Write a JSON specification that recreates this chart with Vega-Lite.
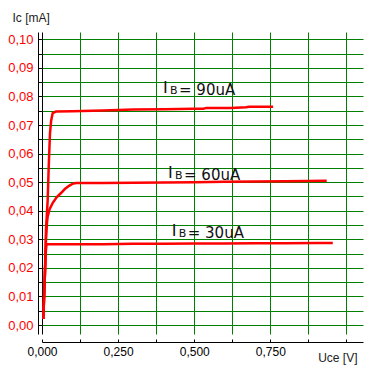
{
  "$schema": "https://vega.github.io/schema/vega-lite/v6.json",
  "width": 321,
  "height": 302,
  "autosize": {"type": "none"},
  "padding": {"left": 42, "top": 32, "right": 8, "bottom": 58},
  "background": "white",
  "config": {"view": {"stroke": null}},
  "datasets": {
    "curves": [
      {"curve": "30uA", "u": 0.0043, "i": 0.0021},
      {"curve": "30uA", "u": 0.0066, "i": 0.0088},
      {"curve": "30uA", "u": 0.0099, "i": 0.019},
      {"curve": "30uA", "u": 0.012, "i": 0.025},
      {"curve": "30uA", "u": 0.0145, "i": 0.028},
      {"curve": "30uA", "u": 0.017, "i": 0.0283},
      {"curve": "30uA", "u": 0.1, "i": 0.0283},
      {"curve": "30uA", "u": 0.2, "i": 0.0283},
      {"curve": "30uA", "u": 0.3, "i": 0.0284},
      {"curve": "30uA", "u": 0.4, "i": 0.0284},
      {"curve": "30uA", "u": 0.5, "i": 0.0285},
      {"curve": "30uA", "u": 0.6, "i": 0.0285},
      {"curve": "30uA", "u": 0.7, "i": 0.0286},
      {"curve": "30uA", "u": 0.8, "i": 0.0286},
      {"curve": "30uA", "u": 0.9, "i": 0.0287},
      {"curve": "30uA", "u": 0.955, "i": 0.0287},
      {"curve": "60uA", "u": 0.0043, "i": 0.0021},
      {"curve": "60uA", "u": 0.0099, "i": 0.019},
      {"curve": "60uA", "u": 0.0131, "i": 0.03},
      {"curve": "60uA", "u": 0.0165, "i": 0.036},
      {"curve": "60uA", "u": 0.0187, "i": 0.038},
      {"curve": "60uA", "u": 0.025, "i": 0.0405},
      {"curve": "60uA", "u": 0.035, "i": 0.0427},
      {"curve": "60uA", "u": 0.048, "i": 0.0447},
      {"curve": "60uA", "u": 0.0624, "i": 0.0462},
      {"curve": "60uA", "u": 0.075, "i": 0.0476},
      {"curve": "60uA", "u": 0.0887, "i": 0.0487},
      {"curve": "60uA", "u": 0.1, "i": 0.0494},
      {"curve": "60uA", "u": 0.1117, "i": 0.0497},
      {"curve": "60uA", "u": 0.2, "i": 0.0497},
      {"curve": "60uA", "u": 0.3, "i": 0.0498},
      {"curve": "60uA", "u": 0.4, "i": 0.0499},
      {"curve": "60uA", "u": 0.5, "i": 0.05},
      {"curve": "60uA", "u": 0.6, "i": 0.0501},
      {"curve": "60uA", "u": 0.7, "i": 0.0502},
      {"curve": "60uA", "u": 0.8, "i": 0.0503},
      {"curve": "60uA", "u": 0.935, "i": 0.0505},
      {"curve": "90uA", "u": 0.0043, "i": 0.0021},
      {"curve": "90uA", "u": 0.0099, "i": 0.019},
      {"curve": "90uA", "u": 0.0131, "i": 0.0333},
      {"curve": "90uA", "u": 0.0187, "i": 0.0438},
      {"curve": "90uA", "u": 0.022, "i": 0.0553},
      {"curve": "90uA", "u": 0.0263, "i": 0.0672},
      {"curve": "90uA", "u": 0.03, "i": 0.0715},
      {"curve": "90uA", "u": 0.0351, "i": 0.0742},
      {"curve": "90uA", "u": 0.046, "i": 0.0747},
      {"curve": "90uA", "u": 0.1, "i": 0.0748},
      {"curve": "90uA", "u": 0.2, "i": 0.0751},
      {"curve": "90uA", "u": 0.3, "i": 0.0754},
      {"curve": "90uA", "u": 0.4, "i": 0.0755},
      {"curve": "90uA", "u": 0.5, "i": 0.0757},
      {"curve": "90uA", "u": 0.53, "i": 0.0757},
      {"curve": "90uA", "u": 0.54, "i": 0.076},
      {"curve": "90uA", "u": 0.62, "i": 0.076},
      {"curve": "90uA", "u": 0.67, "i": 0.0762},
      {"curve": "90uA", "u": 0.68, "i": 0.0764},
      {"curve": "90uA", "u": 0.759, "i": 0.0764}
    ],
    "labels": [
      {"u": 0.3974, "i": 0.0805, "text": "= 90uA"},
      {"u": 0.4138, "i": 0.0508, "text": "= 60uA"},
      {"u": 0.426, "i": 0.0303, "text": "= 30uA"}
    ]
  },
  "layer": [
    {
      "data": {"name": "curves"},
      "mark": {"type": "line", "color": "#ff0000", "strokeWidth": 2.5},
      "encoding": {
        "x": {
          "field": "u", "type": "quantitative",
          "scale": {"domain": [0, 1.0542], "nice": false, "zero": false},
          "axis": {
            "values": [0, 0.125, 0.25, 0.375, 0.5, 0.625, 0.75, 0.875, 1.0],
            "tickCount": 100,
            "labelExpr": "(datum.value <= 0.76 && abs(datum.value*4 - round(datum.value*4)) < 0.01) ? replace(format(datum.value, '.3f'), '.', ',') : ''",
            "offset": 8,
            "tickSize": -3,
            "tickColor": "black",
            "domainColor": "black",
            "grid": true,
            "gridColor": {"condition": {"test": "datum.value === 0", "value": "black"}, "value": "#008000"},
            "gridWidth": 1,
            "labelFlush": false,
            "labelOverlap": false,
            "labelFont": "Liberation Sans",
            "labelFontSize": 12,
            "labelColor": "black",
            "labelPadding": 7,
            "title": "Uce [V]",
            "titleFont": "Liberation Sans",
            "titleFontSize": 12,
            "titleFontWeight": "normal",
            "titleColor": "#222222",
            "titleAlign": "right",
            "titleBaseline": "alphabetic",
            "titleX": 315,
            "titleY": 19
          }
        },
        "y": {
          "field": "i", "type": "quantitative",
          "scale": {"domain": [-0.00315, 0.10256], "nice": false, "zero": false},
          "axis": {
            "values": [0, 0.005, 0.01, 0.015, 0.02, 0.025, 0.03, 0.035, 0.04, 0.045, 0.05, 0.055, 0.06, 0.065, 0.07, 0.075, 0.08, 0.085, 0.09, 0.095, 0.1],
            "tickCount": 100,
            "labelExpr": "abs(datum.value*100 - round(datum.value*100)) < 0.01 ? replace(format(datum.value, '.2f'), '.', ',') : ''",
            "offset": 4,
            "tickSize": -4,
            "tickColor": "black",
            "domainColor": "black",
            "grid": true,
            "gridColor": "#008000",
            "gridWidth": 1,
            "labelFlush": false,
            "labelOverlap": false,
            "labelFont": "Liberation Sans",
            "labelFontSize": 13,
            "labelColor": "#ff0000",
            "labelPadding": 9,
            "title": "Ic [mA]",
            "titleFont": "Liberation Sans",
            "titleFontSize": 12,
            "titleFontWeight": "normal",
            "titleColor": "#222222",
            "titleAngle": 0,
            "titleAlign": "left",
            "titleBaseline": "alphabetic",
            "titleX": -26,
            "titleY": -11
          }
        },
        "detail": {"field": "curve"}
      }
    },
    {
      "data": {"name": "labels"},
      "mark": {"type": "text", "text": "I", "align": "left", "baseline": "alphabetic", "font": "DejaVu Sans", "fontSize": 16, "dy": -2, "color": "#111111"},
      "encoding": {"x": {"field": "u", "type": "quantitative"}, "y": {"field": "i", "type": "quantitative"}}
    },
    {
      "data": {"name": "labels"},
      "mark": {"type": "text", "text": "B", "align": "left", "baseline": "alphabetic", "font": "DejaVu Sans", "fontSize": 11, "dx": 7, "dy": -1, "color": "#111111"},
      "encoding": {"x": {"field": "u", "type": "quantitative"}, "y": {"field": "i", "type": "quantitative"}}
    },
    {
      "data": {"name": "labels"},
      "mark": {"type": "text", "align": "left", "baseline": "alphabetic", "font": "DejaVu Sans", "fontSize": 15, "dx": 16, "color": "#111111"},
      "encoding": {"x": {"field": "u", "type": "quantitative"}, "y": {"field": "i", "type": "quantitative"}, "text": {"field": "text"}}
    }
  ]
}
